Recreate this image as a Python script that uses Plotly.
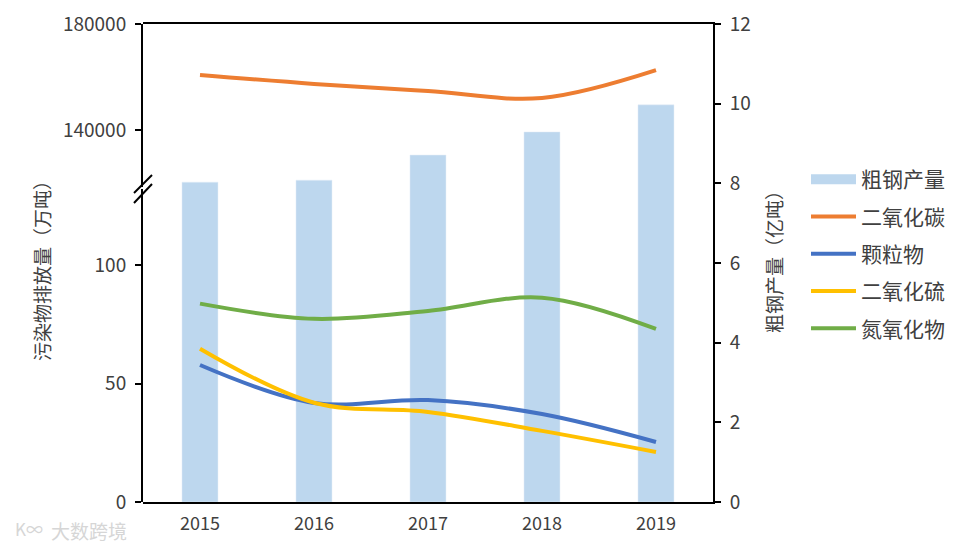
import plotly.graph_objects as go

years = ["2015", "2016", "2017", "2018", "2019"]
steel = [8.03, 8.08, 8.71, 9.29, 9.97]          # 粗钢产量 (亿吨)
co2 = [160750, 157400, 154700, 152100, 162600]   # 二氧化碳 (万吨)
pm = [57.8, 41.8, 43.0, 37.1, 25.3]              # 颗粒物
so2 = [64.7, 41.9, 38.0, 30.0, 21.1]             # 二氧化硫
nox = [83.7, 77.3, 80.6, 86.2, 73.0]             # 氮氧化物

W, H = 978, 548
DX, DY = 7, 7          # page offset compensation
L, R, T, B = 142, 712, 23, 501   # target plot area in screenshot pixels
ph = B - T
pw = R - L

def py(ypix):
    return (B - ypix) / ph

def px(xpix):
    return (xpix - L) / pw

FONT = "Noto Sans CJK SC"
TXT = "#404040"

c_bar = "#BDD7EE"
c_co2 = "#ED7D31"
c_pm = "#4472C4"
c_so2 = "#FFC000"
c_nox = "#70AD47"

low_top = 188
low_scale = 2.37
low_range = [0, (B - low_top) / low_scale]
up_bot = 186
up_scale = 2.65 / 1000
up_range = [180000 - (up_bot - T) / up_scale, 180000]

fig = go.Figure()

fig.add_trace(go.Bar(x=years, y=steel, name="粗钢产量", marker_color=c_bar,
                     yaxis="y", showlegend=False))
fig.add_trace(go.Scatter(x=[None], y=[None], mode="lines", name="粗钢产量",
                         line=dict(color=c_bar, width=10), yaxis="y",
                         legendgroup="g0"))
fig.add_trace(go.Scatter(x=years, y=co2, mode="lines", name="二氧化碳",
                         line=dict(color=c_co2, width=4, shape="spline"),
                         yaxis="y4", legendgroup="g1"))
fig.add_trace(go.Scatter(x=years, y=pm, mode="lines", name="颗粒物",
                         line=dict(color=c_pm, width=4, shape="spline"),
                         yaxis="y3", legendgroup="g2"))
fig.add_trace(go.Scatter(x=years, y=so2, mode="lines", name="二氧化硫",
                         line=dict(color=c_so2, width=4, shape="spline"),
                         yaxis="y3", legendgroup="g3"))
fig.add_trace(go.Scatter(x=years, y=nox, mode="lines", name="氮氧化物",
                         line=dict(color=c_nox, width=4, shape="spline"),
                         yaxis="y3", legendgroup="g4"))

axis_common = dict(showline=True, linecolor="black", linewidth=2,
                   ticks="outside", ticklen=6, tickcolor="black", tickwidth=2,
                   showgrid=False, zeroline=False, tickformat="d",
                   ticklabeloverflow="allow", automargin=False,
                   ticklabelstandoff=5,
                   tickfont=dict(family=FONT, size=19, color=TXT))

fig.update_layout(
    width=W, height=H,
    margin=dict(l=L - DX, r=W - R + DX, t=T - DY, b=H - B + DY),
    paper_bgcolor="white", plot_bgcolor="rgba(0,0,0,0)",
    bargap=0.684,
    font=dict(family=FONT, color=TXT),
    xaxis=dict(type="category", range=[-0.5, 4.5], showline=True,
               linecolor="black", linewidth=2, mirror=True, ticks="",
               showgrid=False, anchor="y", automargin=False,
               ticklabelstandoff=4,
               tickfont=dict(family=FONT, size=18, color=TXT)),
    yaxis=dict(side="right", range=[0, 12.0001], tickvals=[0, 2, 4, 6, 8, 10, 12],
               domain=[0, 1], anchor="x", **axis_common),
    yaxis3=dict(side="left", range=low_range, tickvals=[0, 50, 100],
                domain=[0, py(low_top)], anchor="x", **axis_common),
    yaxis4=dict(side="left", range=[up_range[0], 180001], tickvals=[140000, 180000],
                domain=[py(up_bot), 1], anchor="x", **axis_common),
    legend=dict(x=px(805), y=py(253), xanchor="left", yanchor="middle",
                font=dict(family=FONT, size=21, color=TXT),
                itemwidth=45, tracegroupgap=7, bgcolor="rgba(0,0,0,0)"),
    showlegend=True,
)

fig.add_annotation(text="污染物排放量（万吨）", xref="paper", yref="paper",
                   x=px(40), y=py(265), textangle=-90, showarrow=False,
                   xanchor="center", yanchor="middle",
                   font=dict(family=FONT, size=19, color=TXT))
fig.add_annotation(text="粗钢产量（亿吨）", xref="paper", yref="paper",
                   x=px(772), y=py(256), textangle=-90, showarrow=False,
                   xanchor="center", yanchor="middle",
                   font=dict(family=FONT, size=19, color=TXT))
# watermark
fig.add_annotation(text="大数跨境", xref="paper", yref="paper",
                   x=px(88), y=py(529), showarrow=False,
                   xanchor="center", yanchor="middle",
                   font=dict(family=FONT, size=19, color="#d6d6d6"))
fig.add_annotation(text="K∞", xref="paper", yref="paper",
                   x=px(28), y=py(527), showarrow=False,
                   xanchor="center", yanchor="middle",
                   font=dict(family=FONT, size=17, color="#d6d6d6"))

for y0, y1 in [(192, 174), (202, 183)]:
    fig.add_shape(type="line", xref="paper", yref="paper",
                  x0=px(133), y0=py(y0), x1=px(151), y1=py(y1),
                  line=dict(color="black", width=2))

fig.write_html("out.html")
